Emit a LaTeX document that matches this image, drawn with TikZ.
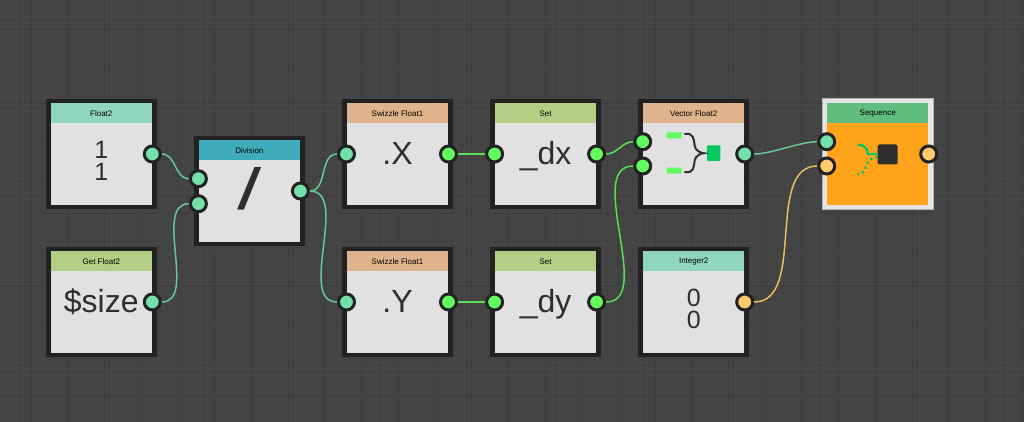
\documentclass[tikz,border=0pt]{standalone}
\usepackage{fontspec}
\setmainfont{Liberation Sans}
\usetikzlibrary{positioning}

\definecolor{backdrop}{HTML}{434343}
\definecolor{gridmajor}{HTML}{3D3D3D}
\definecolor{gridminor}{HTML}{474747}
\definecolor{frame}{HTML}{222222}
\definecolor{panel}{HTML}{E1E1E1}
\definecolor{headmint}{HTML}{90D6BC}
\definecolor{headteal}{HTML}{3FABBB}
\definecolor{headolive}{HTML}{B3CF85}
\definecolor{headtan}{HTML}{DFB48C}
\definecolor{headgreen}{HTML}{60BD80}
\definecolor{seqbody}{HTML}{FFA31A}
\definecolor{seqframe}{HTML}{E4E4E4}
\definecolor{portmint}{HTML}{72E0A8}
\definecolor{portgreen}{HTML}{62FA5E}
\definecolor{portorange}{HTML}{FFCB6B}
\definecolor{wiremint}{HTML}{66C898}
\definecolor{wiregreen}{HTML}{58DE58}
\definecolor{wireorange}{HTML}{EDBB62}
\definecolor{iconsquare}{HTML}{05C85F}
\definecolor{icondark}{HTML}{2E2E2E}

\begin{document}
\begin{tikzpicture}
  \tikzstyle{every node} = [node distance = 37.5pt and 37.6pt]
  \tikzstyle{box} = [rectangle, draw = frame, fill = panel, line width = 4.5pt,
                     minimum size = 106pt, inner sep = 0]
  \tikzstyle{head} = [rectangle, minimum width = 101.5pt, minimum height = 20pt,
                      inner sep = 0, font = \fontsize{8}{9}\selectfont, text = black]
  \tikzstyle{big} = [anchor = base, yshift = -10.5pt, text = icondark,
                     font = \fontsize{32}{32}\selectfont]
  \tikzstyle{stack} = [align = center, yshift = -7pt, text = icondark,
                       font = \fontsize{25}{22}\selectfont, inner sep = 0]
  \tikzstyle{port} = [circle, draw = frame, line width = 3pt, minimum size = 16pt, inner sep = 0]
  \tikzstyle{wire} = [line width = 1.5pt]
  \tikzset{mint/.style = {port, fill = portmint},
           lime/.style = {port, fill = portgreen},
           peach/.style = {port, fill = portorange}}

  \useasboundingbox (0,0) rectangle (1024pt,422pt);
  \fill[backdrop] (0,0) rectangle (1024pt,422pt);
  \foreach \k in {0,...,139} \draw[gridminor, line width = 0.5pt] ({1.6+7.34*\k pt},0) -- ({1.6+7.34*\k pt},422pt);
  \foreach \k in {0,...,57} \draw[gridminor, line width = 0.5pt] (0,{422-1.4-7.34*\k pt}) -- (1024pt,{422-1.4-7.34*\k pt});
  \foreach \k in {-1,...,27} \draw[gridmajor, line width = 1pt] ({31.2+36.7*\k pt},0) -- ({31.2+36.7*\k pt},422pt);
  \foreach \k in {-1,...,11} \draw[gridmajor, line width = 1pt] (0,{422-30-36.7*\k pt}) -- (1024pt,{422-30-36.7*\k pt});

  % boxes
  \node[box] (Float) at (101.3pt,268pt) {};
  \node[box, below = of Float] (GetFloat) {};
  \node[box, right = of Float, yshift = -37pt] (Division) {};
  \node[box, right = of Division, yshift = 37pt] (SwizzleX) {};
  \node[box, right = of SwizzleX] (SetX) {};
  \node[box, right = of SetX] (VecFloat) {};
  \node[box, below = of SwizzleX] (SwizzleY) {};
  \node[box, right = of SwizzleY] (SetY) {};
  \node[box, right = of SetY] (IntVal) {};
  \node[box, right = 73.5pt of VecFloat, draw = seqframe, fill = seqbody] (Sequence) {};
  \draw[black!30, line width = 0.5pt] ([shift = {(-0.2pt,-0.2pt)}]Sequence.south west) rectangle ([shift = {(0.2pt,0.2pt)}]Sequence.north east);

  % headers
  \node[head, fill = headmint, below = 4.5pt of Float.north] (FloatHead) {Float2};
  \node[head, fill = headolive, below = 4.5pt of GetFloat.north] (GetFloatHead) {Get Float2};
  \node[head, fill = headteal, below = 4.5pt of Division.north] (DivisionHead) {Division};
  \node[head, fill = headtan, below = 4.5pt of SwizzleX.north] (SwizzleXHead) {Swizzle Float1};
  \node[head, fill = headolive, below = 4.5pt of SetX.north] (SetXHead) {Set};
  \node[head, fill = headtan, below = 4.5pt of VecFloat.north] (VecFloatHead) {Vector Float2};
  \node[head, fill = headtan, below = 4.5pt of SwizzleY.north] (SwizzleYHead) {Swizzle Float1};
  \node[head, fill = headolive, below = 4.5pt of SetY.north] (SetYHead) {Set};
  \node[head, fill = headmint, below = 4.5pt of IntVal.north] (IntValHead) {Integer2};
  \node[head, fill = headgreen, below = 4.5pt of Sequence.north] (SequenceHead) {Sequence};

  % values
  \node[stack] (FloatText) at (Float.center) {1\\1};
  \node[stack] (IntText) at (IntVal.center) {0\\0};
  \node[big] (GetText) at (GetFloat.center) {\$size};
  \node[big, xscale = 1.5, yshift = -8pt, font = \fontsize{58}{58}\selectfont] (DivText) at (Division.center) {/};
  \node[big] (XText) at (SwizzleX.center) {.X};
  \node[big] (YText) at (SwizzleY.center) {.Y};
  \node[big] (DxText) at (SetX.center) {\_dx};
  \node[big] (DyText) at (SetY.center) {\_dy};

  % icons
  \tikzstyle{bar} = [rectangle, rounded corners = 1pt, fill = portgreen, minimum width = 15pt,
                     minimum height = 6pt, inner sep = 0]
  \node[bar] (BarTop) at ([shift = {(-19.5pt,18.7pt)}]VecFloat.center) {};
  \node[bar] (BarLow) at ([shift = {(-19.5pt,-16.7pt)}]VecFloat.center) {};
  \node[rectangle, rounded corners = 1pt, fill = iconsquare, minimum width = 13.5pt, minimum height = 15.5pt,
        inner sep = 0] (VecSquare) at ([shift = {(20pt,0.8pt)}]VecFloat.center) {};
  \draw[icondark, line width = 2pt, line cap = round] (BarTop.east) ++(3pt,1.5pt)
    .. controls +(9pt,1pt) and +(-1pt,7pt) .. ([xshift = -12pt,yshift = 7pt]VecSquare.west)
    .. controls +(0.5pt,-4pt) and +(-3pt,0pt) .. ([xshift = -3pt]VecSquare.west)
    .. controls +(-3pt,0pt) and +(0.5pt,4pt) .. ([xshift = -12pt,yshift = -7pt]VecSquare.west)
    .. controls +(-1pt,-7pt) and +(9pt,-1pt) .. ([shift = {(3pt,-1.5pt)}]BarLow.east);
  \node[rectangle, rounded corners = 1.5pt, fill = icondark, minimum width = 20pt, minimum height = 20pt,
        inner sep = 0] (SeqSquare) at ([shift = {(10pt,-0.5pt)}]Sequence.center) {};
  \coordinate[left = 20pt of SeqSquare.west, yshift = 10pt] (SeqTop);
  \coordinate[left = 20pt of SeqSquare.west, yshift = -20pt] (SeqLow);
  \draw[iconsquare, line width = 2.2pt] (SeqTop) .. controls +(7pt,0pt) and +(0pt,3pt) .. ++(10pt,-8pt)
    .. controls +(0pt,-4pt) and +(-5pt,1pt) .. ([yshift = 0.5pt]SeqSquare.west);
  \draw[iconsquare, line width = 2.2pt, dash pattern = on 2.4pt off 3pt] ([yshift = -2.5pt]SeqSquare.west)
    .. controls +(-7pt,-1pt) and +(2pt,5pt) .. ++(-11pt,-8pt) .. controls +(-1pt,-5pt) and +(4pt,-1pt) .. (SeqLow);

  % ports
  \node[mint] (FloatOut) at ([xshift = -4.25pt]Float.east) {};
  \node[mint] (GetOut) at ([xshift = -4.25pt]GetFloat.east) {};
  \node[mint] (DivInA) at ([shift = {(4.25pt,12.3pt)}]Division.west) {};
  \node[mint] (DivInB) at ([shift = {(4.25pt,-12.7pt)}]Division.west) {};
  \node[mint] (DivOut) at ([xshift = -4.25pt]Division.east) {};
  \node[mint] (SwizXIn) at ([xshift = 4.25pt]SwizzleX.west) {};
  \node[lime] (SwizXOut) at ([xshift = -4.25pt]SwizzleX.east) {};
  \node[lime] (SetXIn) at ([xshift = 4.25pt]SetX.west) {};
  \node[lime] (SetXOut) at ([xshift = -4.25pt]SetX.east) {};
  \node[mint] (SwizYIn) at ([xshift = 4.25pt]SwizzleY.west) {};
  \node[lime] (SwizYOut) at ([xshift = -4.25pt]SwizzleY.east) {};
  \node[lime] (SetYIn) at ([xshift = 4.25pt]SetY.west) {};
  \node[lime] (SetYOut) at ([xshift = -4.25pt]SetY.east) {};
  \node[lime] (VecInA) at ([shift = {(4.25pt,12.3pt)}]VecFloat.west) {};
  \node[lime] (VecInB) at ([shift = {(4.25pt,-12pt)}]VecFloat.west) {};
  \node[mint] (VecOut) at ([xshift = -4.25pt]VecFloat.east) {};
  \node[peach] (IntOut) at ([xshift = -4.25pt]IntVal.east) {};
  \node[mint] (SeqInA) at ([shift = {(4.25pt,12.3pt)}]Sequence.west) {};
  \node[peach] (SeqInB) at ([shift = {(4.25pt,-12pt)}]Sequence.west) {};
  \node[peach] (SeqOut) at ([xshift = -4.25pt]Sequence.east) {};

  % wires
  \draw[wire, wiremint] (FloatOut.east) to[out = 0, in = 180] (DivInA.west);
  \draw[wire, wiremint] (GetOut.east) to[out = 0, in = 180, looseness = 0.9] (DivInB.west);
  \draw[wire, wiremint] (DivOut.east) to[out = 0, in = 180] (SwizXIn.west);
  \draw[wire, wiremint] (DivOut.east) to[out = 0, in = 180, looseness = 0.9] (SwizYIn.west);
  \draw[wire, wiregreen] (SwizXOut) -- (SetXIn);
  \draw[wire, wiregreen] (SwizYOut) -- (SetYIn);
  \draw[wire, wiregreen] (SetXOut.east) to[out = 0, in = 180] (VecInA.west);
  \draw[wire, wiregreen] (SetYOut.east) to[out = 0, in = 180, looseness = 0.9] (VecInB.west);
  \draw[wire, wiremint] (VecOut.east) to[out = 0, in = 180, looseness = 0.7] (SeqInA.west);
  \draw[wire, wireorange] (IntOut.east) to[out = 0, in = 180, looseness = 0.9] (SeqInB.west);
\end{tikzpicture}
\end{document}
